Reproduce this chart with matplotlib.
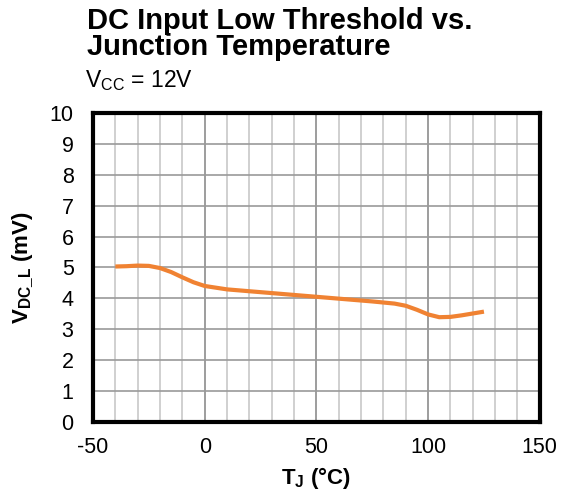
import numpy as np
import matplotlib.pyplot as plt

plt.rcParams['font.family'] = ['Liberation Sans', 'DejaVu Sans']
plt.rcParams['mathtext.fontset'] = 'custom'
plt.rcParams['mathtext.rm'] = 'Liberation Sans'
plt.rcParams['mathtext.bf'] = 'Liberation Sans:bold'
plt.rcParams['axes.unicode_minus'] = False

# junction temperature (C) and DC input low threshold (mV)
temp = [-40, -35, -30, -25, -20, -15, -10, -5, 0, 10, 25, 50, 75, 85, 90, 95, 100, 105, 110, 115, 125]
v_dc_l = [5.03, 5.04, 5.06, 5.05, 4.98, 4.85, 4.68, 4.52, 4.40, 4.29, 4.20, 4.05, 3.90, 3.83, 3.76, 3.63, 3.48, 3.39, 3.40, 3.45, 3.57]

x_ticks = [-50, 0, 50, 100, 150]
y_ticks = list(range(0, 11))

fig = plt.figure(figsize=(5.62, 5.01), dpi=100)
ax = fig.add_axes([0.1655, 0.1577, 0.795, 0.617])

# grid: minor every 10 C, major every 50 C, horizontal every 1 mV
for x in range(-40, 150, 10):
    c = '#8c8c8c' if x % 50 == 0 else '#c8c8c8'
    ax.axvline(x, color=c, lw=1.2, zorder=1)
for y in y_ticks[1:-1]:
    ax.axhline(y, color='#9a9a9a', lw=1.2, zorder=1)

ax.plot(temp, v_dc_l, color='#F08232', lw=3, solid_capstyle='butt', zorder=3)

ax.set_xlim(-50, 150)
ax.set_ylim(0, 10)
ax.set_xticks(x_ticks)
ax.set_yticks(y_ticks)
ax.tick_params(axis='x', length=0, labelsize=15.5, pad=11)
ax.tick_params(axis='y', length=0, labelsize=15.5, pad=14)
for s in ax.spines.values():
    s.set_linewidth(3)

ax.set_xlabel(r'$\mathbf{T_J}$ (°C)', fontsize=16, fontweight='bold', labelpad=5)
ax.set_ylabel(r'$\mathbf{V_{DC\_L}}$ (mV)', fontsize=16, fontweight='bold', labelpad=10)

fig.text(0.155, 0.942, 'DC Input Low Threshold vs.', fontsize=21,
         fontweight='bold', ha='left', va='baseline')
fig.text(0.155, 0.891, 'Junction Temperature', fontsize=21,
         fontweight='bold', ha='left', va='baseline')
fig.text(0.152, 0.826, r'V$_{\mathrm{CC}}$ = 12V', fontsize=16.5, ha='left', va='baseline')

fig.savefig('out.png', dpi=100)
